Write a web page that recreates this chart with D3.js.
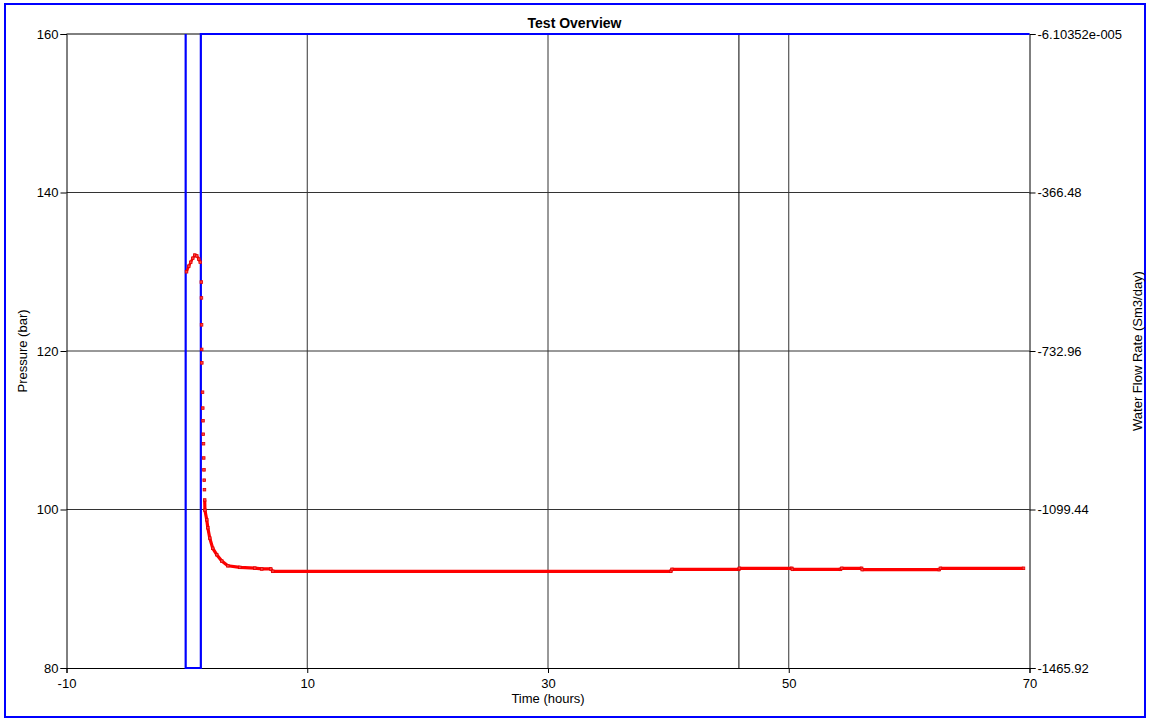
<!DOCTYPE html>
<html>
<head>
<meta charset="utf-8">
<script src="https://cdn.jsdelivr.net/npm/d3@7"></script>
<style>
  html, body { margin: 0; padding: 0; background: #fff; }
  svg { display: block; font-family: "Liberation Sans", Arial, sans-serif; }
</style>
</head>
<body>
<svg id="chart" width="1149" height="721"></svg>
<script>
// Pressure gauge record (hours, bar)
const pressureTime = [
  -0.03, 0.16, 0.32, 0.49, 0.66, 0.82, 0.99, 1.11,
  1.20, 1.21, 1.22, 1.23, 1.24,
  1.30, 1.32, 1.34, 1.36, 1.38, 1.40, 1.42, 1.44, 1.46, 1.48, 1.50,
  1.65, 1.74, 1.90, 2.15, 2.48, 2.90, 3.40, 4.40, 5.64, 6.22, 6.97,
  7.14, 40.2, 40.3, 45.85, 45.9, 50.25, 50.3, 54.3, 54.4, 56.05, 56.1, 62.5, 62.6, 69.5
];
const pressureBar = [
  130.0, 130.7, 131.2, 131.7, 132.1, 132.0, 131.6, 131.2,
  128.7, 126.7, 123.3, 120.2, 118.5,
  114.8, 112.8, 111.2, 109.5, 108.3, 106.5, 105.0, 103.7, 102.5, 101.2, 99.9,
  98.7, 97.7, 96.4, 95.1, 94.3, 93.5, 92.9, 92.7, 92.6, 92.5, 92.5,
  92.2, 92.2, 92.45, 92.45, 92.58, 92.58, 92.45, 92.45, 92.58, 92.58, 92.42, 92.42, 92.58, 92.58
];

// Water flow rate history (hours, Sm3/day)
const flowTime = [-0.1, -0.1, 1.16, 1.16, 70];
const flowRate = [-6.10352e-5, -1465.92, -1465.92, -6.10352e-5, -6.10352e-5];

// Axis ticks
const timeTicks = [-10, 10, 30, 50, 70];
const pressureTicks = [80, 100, 120, 140, 160];
const flowTicks = [-1465.92, -1099.44, -732.96, -366.48, -6.10352e-5];
const flowTickLabels = ["-1465.92", "-1099.44", "-732.96", "-366.48", "-6.10352e-005"];

// Event marker
const eventTimes = [45.86];

const svg = d3.select("#chart");
const W = 1149, H = 721;
const m = { left: 66.5, right: 1029.5, top: 34, bottom: 668 };

const x = d3.scaleLinear().domain([-10, 70]).range([m.left, m.right]);
const yP = d3.scaleLinear().domain([80, 160]).range([m.bottom, m.top]);
const yF = d3.scaleLinear().domain([-1465.92, -6.10352e-5]).range([m.bottom, m.top]);

// outer frame
svg.append("rect")
  .attr("x", 5).attr("y", 4).attr("width", 1140).attr("height", 713)
  .attr("fill", "none").attr("stroke", "#0000ff").attr("stroke-width", 2);

svg.append("defs").append("clipPath").attr("id", "plotClip")
  .append("rect")
  .attr("x", m.left - 2).attr("y", m.top - 2)
  .attr("width", m.right - m.left + 4).attr("height", m.bottom - m.top + 4);

// grid
const grid = svg.append("g");
grid.selectAll("line.v").data(timeTicks.filter(d => d > -10 && d < 70)).join("line")
  .attr("x1", d => x(d)).attr("x2", d => x(d))
  .attr("y1", m.top).attr("y2", m.bottom)
  .attr("stroke", "#333").attr("stroke-width", 1);
grid.selectAll("line.h").data(pressureTicks.filter(d => d > 80 && d < 160)).join("line")
  .attr("x1", m.left).attr("x2", m.right)
  .attr("y1", d => yP(d)).attr("y2", d => yP(d))
  .attr("stroke", "#333").attr("stroke-width", 1);
grid.selectAll("line.ev").data(eventTimes).join("line")
  .attr("x1", d => x(d)).attr("x2", d => x(d))
  .attr("y1", m.top).attr("y2", m.bottom)
  .attr("stroke", "#000").attr("stroke-width", 1);

// plot frame top
svg.append("line")
  .attr("x1", m.left).attr("x2", m.right).attr("y1", m.top).attr("y2", m.top)
  .attr("stroke", "#000").attr("stroke-width", 1);

// axes
const fontSize = 13;
const gB = svg.append("g").attr("transform", `translate(0,${m.bottom})`)
  .call(d3.axisBottom(x).tickValues(timeTicks).tickSize(5).tickFormat(d => String(d)));
const gL = svg.append("g").attr("transform", `translate(${m.left},0)`)
  .call(d3.axisLeft(yP).tickValues(pressureTicks).tickSize(6).tickFormat(d => String(d)));
const gR = svg.append("g").attr("transform", `translate(${m.right},0)`)
  .call(d3.axisRight(yF).tickValues(flowTicks).tickSize(6)
    .tickFormat((d, i) => flowTickLabels[i]));
[gB, gL, gR].forEach(g => {
  g.select(".domain").attr("stroke", "#000");
  g.selectAll(".tick line").attr("stroke", "#000");
  g.selectAll(".tick text").attr("fill", "#000")
    .style("font-size", fontSize + "px")
    .style("font-family", "'Liberation Sans', Arial, sans-serif");
});
gB.selectAll(".tick text").attr("dy", "0.85em").attr("y", 9);
gL.selectAll(".tick text").attr("x", -8);
gR.selectAll(".tick text").attr("x", 8);

const plot = svg.append("g").attr("clip-path", "url(#plotClip)");

// flow rate step line
const flowPts = flowTime.map((t, i) => [t, flowRate[i]]);
plot.append("path")
  .datum(flowPts)
  .attr("fill", "none").attr("stroke", "#0000ff").attr("stroke-width", 2.2)
  .attr("d", d3.line().x(d => x(d[0])).y(d => yF(d[1])));

// pressure trace: connected before and after the rapid drawdown, dots during it
const presPts = pressureTime.map((t, i) => [t, pressureBar[i]]);
plot.append("path")
  .datum(presPts.filter(d => d[0] > 1.47))
  .attr("fill", "none").attr("stroke", "#ff0000").attr("stroke-width", 3.2)
  .attr("stroke-linejoin", "round")
  .attr("d", d3.line().x(d => x(d[0])).y(d => yP(d[1])));
plot.append("path")
  .datum(presPts.filter(d => d[0] < 1.15))
  .attr("fill", "none").attr("stroke", "#ff0000").attr("stroke-width", 2.6)
  .attr("d", d3.line().x(d => x(d[0])).y(d => yP(d[1])));
plot.selectAll("rect.pt").data(presPts).join("rect")
  .attr("x", d => x(d[0]) - 1.3).attr("y", d => yP(d[1]) - 1.3)
  .attr("width", 2.6).attr("height", 2.6)
  .attr("fill", "#ff4040").attr("stroke", "#e00000").attr("stroke-width", 0.8);

// titles
svg.append("text")
  .attr("x", W / 2).attr("y", 28).attr("text-anchor", "middle")
  .style("font-size", "14px").style("font-weight", "bold")
  .text("Test Overview");
svg.append("text")
  .attr("x", (m.left + m.right) / 2).attr("y", 703).attr("text-anchor", "middle")
  .style("font-size", fontSize + "px")
  .text("Time (hours)");
svg.append("text")
  .attr("transform", `translate(27,${(m.top + m.bottom) / 2}) rotate(-90)`)
  .attr("text-anchor", "middle")
  .style("font-size", fontSize + "px")
  .text("Pressure (bar)");
svg.append("text")
  .attr("transform", `translate(1142,${(m.top + m.bottom) / 2}) rotate(-90)`)
  .attr("text-anchor", "middle")
  .style("font-size", fontSize + "px")
  .text("Water Flow Rate (Sm3/day)");
</script>
</body>
</html>
